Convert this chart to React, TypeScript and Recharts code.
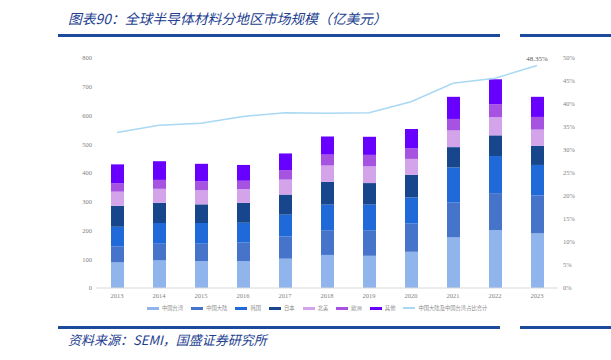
import { ComposedChart, Bar, Line, XAxis, YAxis, LabelList } from "recharts";

const years = ["2013", "2014", "2015", "2016", "2017", "2018", "2019", "2020", "2021", "2022", "2023"];

// 亿美元
const taiwan = [89, 96, 94, 93, 102, 115, 112, 126, 176, 201, 190];
const mainland = [56, 58, 60, 65, 77, 86, 89, 98, 121, 129, 132];
const korea = [68, 72, 72, 69, 76, 89, 89, 91, 122, 129, 106];
const japan = [73, 70, 65, 69, 70, 79, 75, 79, 71, 72, 67];
const northAmerica = [49, 49, 49, 48, 52, 57, 58, 55, 58, 63, 56];
const europe = [29, 31, 31, 29, 33, 38, 40, 37, 40, 45, 44];
const others = [66, 65, 61, 55, 58, 63, 63, 67, 77, 87, 70];
// 中国大陆及中国台湾占比合计 (%)
const share = [33.8, 35.4, 35.8, 37.3, 38.1, 38.0, 38.1, 40.5, 44.5, 45.6, 48.35];

const leftTicks = [0, 100, 200, 300, 400, 500, 600, 700, 800];
const rightTicks = [0, 5, 10, 15, 20, 25, 30, 35, 40, 45, 50];

const series = [
  { key: "taiwan", name: "中国台湾", color: "#8fb5ec", values: taiwan },
  { key: "mainland", name: "中国大陆", color: "#4674cb", values: mainland },
  { key: "korea", name: "韩国", color: "#1f69d8", values: korea },
  { key: "japan", name: "日本", color: "#17468c", values: japan },
  { key: "na", name: "北美", color: "#d3a4ea", values: northAmerica },
  { key: "eu", name: "欧洲", color: "#a653e2", values: europe },
  { key: "other", name: "其他", color: "#6700ff", values: others },
];
const lineName = "中国大陆及中国台湾占比合计";
const lineColor = "#a9d8f2";

const data = years.map((y, i) => {
  const row: any = { year: y, share: share[i] };
  series.forEach((s) => (row[s.key] = s.values[i]));
  return row;
});

const tickStyle = { fontSize: 6.5, fill: "#7f7f7f", fontFamily: "Liberation Serif" };
const blue = "#1d4b9b";

export default function App() {
  return (
    <div style={{ position: "absolute", left: 0, top: 0, width: 611, height: 360, background: "#fff" }}>
      <div
        style={{
          position: "absolute",
          left: 68,
          top: 8,
          fontFamily: "Noto Sans CJK SC",
          fontStyle: "italic",
          fontSize: 13.8,
          color: "#23408f",
          whiteSpace: "nowrap",
        }}
      >
        图表90：全球半导体材料分地区市场规模（亿美元）
      </div>
      <div style={{ position: "absolute", left: 58, top: 34, width: 442, height: 2.5, background: blue }} />
      <div style={{ position: "absolute", left: 520, top: 34, width: 91, height: 2.5, background: blue }} />

      <ComposedChart
        width={611}
        height={360}
        data={data}
        margin={{ top: 58, right: 23, left: 66, bottom: 52 }}
        style={{ position: "absolute", left: 0, top: 0 }}
      >
        <XAxis
          dataKey="year"
          tick={tickStyle}
          tickLine={false}
          tickSize={0}
          tickMargin={5}
          axisLine={{ stroke: "#d9d9d9" }}
          height={20}
        />
        <YAxis
          yAxisId="left"
          domain={[0, 800]}
          ticks={leftTicks}
          tick={tickStyle}
          tickLine={false}
          axisLine={false}
          tickSize={0}
          tickMargin={4}
          width={30}
        />
        <YAxis
          yAxisId="right"
          orientation="right"
          domain={[0, 50]}
          ticks={rightTicks}
          tickFormatter={(v) => `${v}%`}
          tick={tickStyle}
          tickLine={false}
          axisLine={false}
          tickSize={0}
          tickMargin={5}
          width={30}
        />
        {series.map((s) => (
          <Bar
            key={s.key}
            yAxisId="left"
            dataKey={s.key}
            name={s.name}
            stackId="a"
            fill={s.color}
            barSize={13}
            isAnimationActive={false}
          />
        ))}
        <Line
          yAxisId="right"
          dataKey="share"
          name={lineName}
          stroke={lineColor}
          strokeWidth={1.5}
          dot={false}
          isAnimationActive={false}
        >
          <LabelList
            dataKey="share"
            content={(p: any) =>
              p.index === share.length - 1 ? (
                <text x={p.x} y={p.y - 5} textAnchor="middle" fontSize={7} fill="#595959" fontFamily="Liberation Serif">
                  {`${p.value}%`}
                </text>
              ) : null
            }
          />
        </Line>
      </ComposedChart>

      <div
        style={{
          position: "absolute",
          left: 147,
          top: 304,
          display: "flex",
          alignItems: "center",
          gap: 8,
          fontFamily: "Noto Sans CJK SC",
          fontSize: 5.3,
          color: "#8c8c8c",
          whiteSpace: "nowrap",
        }}
      >
        {series.map((s) => (
          <div key={s.key} style={{ display: "flex", alignItems: "center", gap: 3 }}>
            <span style={{ display: "inline-block", width: 12, height: 3, background: s.color }} />
            {s.name}
          </div>
        ))}
        <div style={{ display: "flex", alignItems: "center", gap: 3 }}>
          <span style={{ display: "inline-block", width: 12, height: 1.5, background: lineColor }} />
          {lineName}
        </div>
      </div>

      <div style={{ position: "absolute", left: 58, top: 326, width: 442, height: 2.5, background: blue }} />
      <div style={{ position: "absolute", left: 520, top: 326, width: 91, height: 2.5, background: blue }} />
      <div
        style={{
          position: "absolute",
          left: 68,
          top: 330,
          fontFamily: "Noto Sans CJK SC",
          fontStyle: "italic",
          fontSize: 13,
          color: "#23408f",
          whiteSpace: "nowrap",
        }}
      >
        资料来源：SEMI，国盛证券研究所
      </div>
    </div>
  );
}
